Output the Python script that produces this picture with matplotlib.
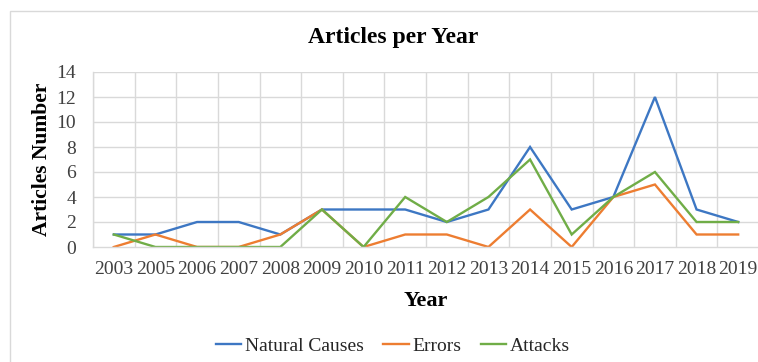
import matplotlib
matplotlib.use("Agg")
import matplotlib.pyplot as plt
from matplotlib.patches import Rectangle
from matplotlib.lines import Line2D

years = ["2003", "2005", "2006", "2007", "2008", "2009", "2010", "2011",
         "2012", "2013", "2014", "2015", "2016", "2017", "2018", "2019"]
natural_causes = [1, 1, 2, 2, 1, 3, 3, 3, 2, 3, 8, 3, 4, 12, 3, 2]
errors = [0, 1, 0, 0, 1, 3, 0, 1, 1, 0, 3, 0, 4, 5, 1, 1]
attacks = [1, 0, 0, 0, 0, 3, 0, 4, 2, 4, 7, 1, 4, 6, 2, 2]
y_ticks = [0, 2, 4, 6, 8, 10, 12, 14]

series = [("Natural Causes", natural_causes, "#3D77C3"),
          ("Errors", errors, "#ED7D31"),
          ("Attacks", attacks, "#70AD47")]

plt.rcParams["font.family"] = ["Liberation Serif", "DejaVu Serif"]

W, H = 758, 362
fig = plt.figure(figsize=(W / 100, H / 100), dpi=100)
fig.patch.set_facecolor("white")

# chart frame
fig.patches.append(Rectangle((10 / W, -0.05), 1.1, (H - 11) / H + 0.05,
                             transform=fig.transFigure, fill=False,
                             edgecolor="#d9d9d9", linewidth=1.0))

left, right, top, bottom = 93, 759, 72, 247
ax = fig.add_axes([left / W, (H - bottom) / H, (right - left) / W, (bottom - top) / H])

x = list(range(len(years)))
for name, vals, col in series:
    ax.plot(x, vals, color=col, linewidth=1.7, label=name, solid_joinstyle="miter")

ax.set_xlim(-0.5, len(years) - 0.5)
ax.set_ylim(0, 14)
ax.set_yticks(y_ticks)
ax.set_xticks(x)
ax.set_xticklabels(years)

ax.grid(False)
for xv in [i - 0.5 for i in range(len(years) + 1)]:
    ax.axvline(xv, color="#d9d9d9", linewidth=1.0, zorder=0)
for yv in y_ticks[1:]:
    ax.axhline(yv, color="#d9d9d9", linewidth=1.0, zorder=0)

for s in ["top", "right"]:
    ax.spines[s].set_visible(False)
ax.spines["left"].set_color("#d9d9d9")
ax.spines["bottom"].set_color("#d9d9d9")
ax.spines["left"].set_linewidth(1.0)
ax.spines["bottom"].set_linewidth(1.0)

ax.tick_params(axis="both", which="both", length=0, labelsize=14, colors="#404040")
ax.tick_params(axis="y", pad=12)
ax.tick_params(axis="x", pad=10)

fig.text(393 / W, 1 - 38 / H, "Articles per Year", ha="center", va="center",
         fontsize=17, fontweight="bold", color="black")
fig.text(42 / W, 1 - 159 / H, "Articles Number", ha="center", va="center",
         rotation=90, fontsize=15.5, fontweight="bold", color="black")
fig.text(426 / W, 1 - 301 / H, "Year", ha="center", va="center",
         fontsize=16, fontweight="bold", color="black")

handles = [Line2D([0], [0], color=c, linewidth=1.7) for _, _, c in series]
fig.legend(handles, [n for n, _, _ in series], loc="center",
           bbox_to_anchor=(393 / W, 1 - 346 / H), ncol=3, frameon=False,
           fontsize=14, handlelength=1.3, handletextpad=0.2, columnspacing=1.0,
           labelcolor="#262626")

fig.savefig("out.png", dpi=100, facecolor="white")
